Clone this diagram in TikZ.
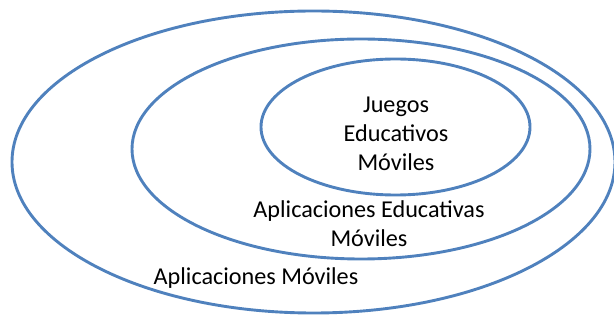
\documentclass[tikz,border=0pt]{standalone}
\usepackage{fontspec}
\setmainfont{Carlito}
\usetikzlibrary{shapes.geometric}
\definecolor{ringblue}{RGB}{79,129,189}
\tikzset{
  ring/.style={ellipse, draw=ringblue, line width=2.9pt, inner sep=0pt},
  lbl/.style={font=\fontsize{24.2}{29}\selectfont, align=center, inner sep=0pt, anchor=base}
}
\begin{document}
\begin{tikzpicture}[x=1pt,y=-1pt]
\useasboundingbox (0,0) rectangle (614,320);
\node[ring, minimum width=603pt, minimum height=302pt] (outer) at (313.5,162) {};
\node[ring, minimum width=458pt, minimum height=220pt] (middle) at (361,149) {};
\node[ring, minimum width=269pt, minimum height=136pt] (inner) at (395.5,127) {};
\node[lbl] (juegos) at (396,171) {Juegos\\Educativos\\Móviles};
\node[lbl] (educ) at (369,247) {Aplicaciones Educativas\\Móviles};
\node[lbl] (apps) at (256,285) {Aplicaciones Móviles};
\end{tikzpicture}
\end{document}
